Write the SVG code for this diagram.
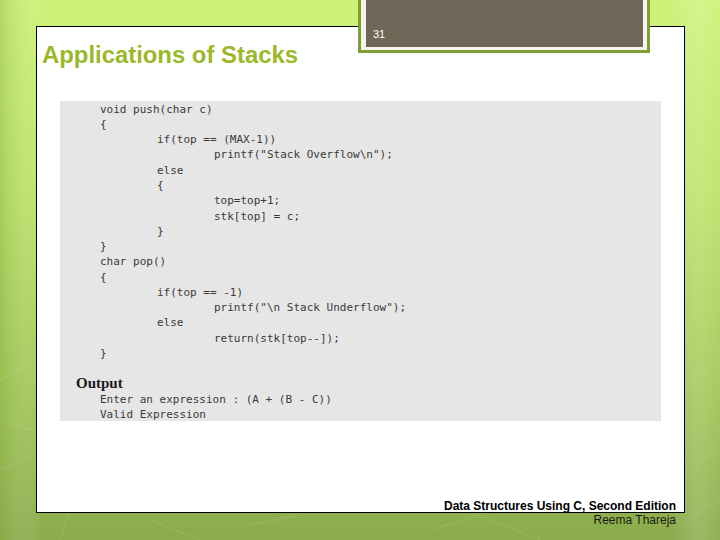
<svg xmlns="http://www.w3.org/2000/svg" width="720" height="540" viewBox="0 0 720 540">
<defs>
<linearGradient id="bg" x1="0" y1="0" x2="0" y2="1">
<stop offset="0" stop-color="#cdf27a"/>
<stop offset="0.35" stop-color="#bde36a"/>
<stop offset="0.7" stop-color="#a4c95a"/>
<stop offset="1" stop-color="#8bab4c"/>
</linearGradient>
<linearGradient id="side" x1="0" y1="0" x2="1" y2="0">
<stop offset="0" stop-color="#7fa83a" stop-opacity="0.35"/>
<stop offset="0.06" stop-color="#ffffff" stop-opacity="0"/>
<stop offset="0.93" stop-color="#ffffff" stop-opacity="0"/>
<stop offset="0.97" stop-color="#ffffff" stop-opacity="0.15"/>
<stop offset="1" stop-color="#ffffff" stop-opacity="0.05"/>
</linearGradient>
<style>
.code{font-family:"DejaVu Sans Mono","Liberation Mono",monospace;font-size:11px;fill:#3a3a3a}
.hex{fill:none;stroke:#ffffff;stroke-opacity:0.12;stroke-width:1}
</style>
</defs>
<rect x="0" y="0" width="720" height="540" fill="url(#bg)"/>
<rect x="0" y="0" width="720" height="540" fill="url(#side)"/>
<g id="background-lines">
<path class="hex" d="M0 380 L30 365 L60 395 L30 430 L0 420"/>
<path class="hex" d="M0 470 L40 450 L80 480 L60 540"/>
<path class="hex" d="M690 380 L720 360 M690 470 L720 450 M685 520 L720 500"/>
<path class="hex" d="M430 530 L480 515 L540 540"/>
<path class="hex" d="M150 520 L200 540 M250 525 L300 515"/>
</g>
<g id="panel">
<rect x="36.5" y="26.5" width="648" height="486" fill="#ffffff" stroke="#000000" stroke-width="1"/>
</g>
<g id="slide-number">
<rect x="359.5" y="-2" width="289" height="53.5" fill="#f4f5ee" stroke="#7f9e2f" stroke-width="3"/>
<rect x="366" y="0" width="277" height="47" fill="#6f6858"/>
<text x="373" y="38" font-family="Liberation Sans, Arial, sans-serif" font-size="11" fill="#ffffff">31</text>
</g>
<g id="title">
<text x="42" y="63" font-family="Liberation Sans, Arial, sans-serif" font-size="23" font-weight="bold" fill="#9bb82a" textLength="256" lengthAdjust="spacingAndGlyphs">Applications of Stacks</text>
</g>
<g id="code-box">
<rect x="60" y="101" width="601" height="320" fill="#e6e6e6"/>
<text class="code" x="100" y="113">void push(char c)</text>
<text class="code" x="100" y="128">{</text>
<text class="code" x="157" y="143">if(top == (MAX-1))</text>
<text class="code" x="214" y="158">printf("Stack Overflow\n");</text>
<text class="code" x="157" y="174">else</text>
<text class="code" x="157" y="189">{</text>
<text class="code" x="214" y="204">top=top+1;</text>
<text class="code" x="214" y="220">stk[top] = c;</text>
<text class="code" x="157" y="235">}</text>
<text class="code" x="100" y="250">}</text>
<text class="code" x="100" y="265">char pop()</text>
<text class="code" x="100" y="281">{</text>
<text class="code" x="157" y="296">if(top == -1)</text>
<text class="code" x="214" y="311">printf("\n Stack Underflow");</text>
<text class="code" x="157" y="326">else</text>
<text class="code" x="214" y="342">return(stk[top--]);</text>
<text class="code" x="100" y="357">}</text>
<text x="76" y="388" font-family="Liberation Serif, Times New Roman, serif" font-size="15" font-weight="bold" fill="#1a1a1a">Output</text>
<text class="code" x="100" y="403">Enter an expression : (A + (B - C))</text>
<text class="code" x="100" y="418">Valid Expression</text>
</g>
<g id="footer">
<text x="676" y="510" text-anchor="end" font-family="Liberation Sans, Arial, sans-serif" font-size="12" font-weight="bold" fill="#000000">Data Structures Using C, Second Edition</text>
<text x="676" y="524" text-anchor="end" font-family="Liberation Sans, Arial, sans-serif" font-size="12" fill="#1a1a1a">Reema Thareja</text>
</g>
</svg>
